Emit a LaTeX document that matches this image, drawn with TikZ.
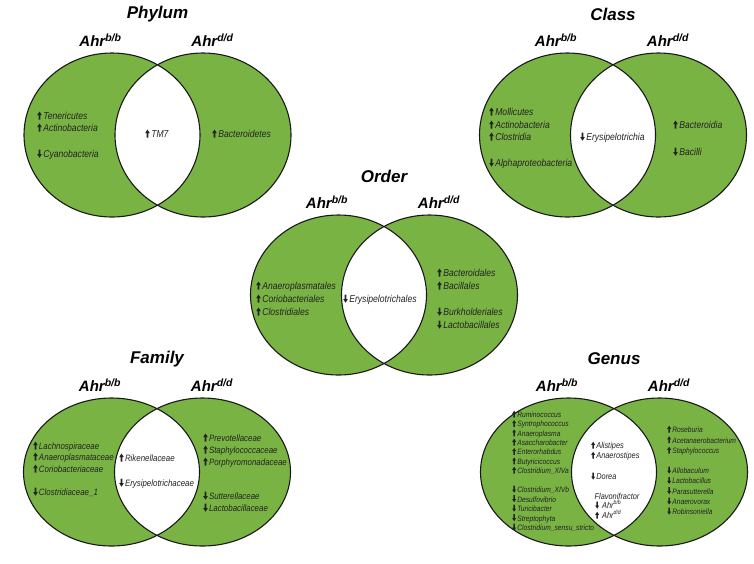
\documentclass[tikz,border=0pt]{standalone}
\usepackage{fontspec}
\setmainfont{Liberation Sans}
\newfontfamily\narrowsans[FakeStretch=0.86]{Liberation Sans}
\usepackage{xcolor}
\usepackage{tikz}

\definecolor{venngreen}{RGB}{121,179,68}
\definecolor{taxtext}{RGB}{35,35,35}

% small up/down arrows in front of each taxon
\newcommand{\uparr}[1][1]{\tikz[x=#1pt,y=#1pt,baseline=0pt]\fill (-0.9,-0.2) -- (-0.9,4.4) -- (-2.3,4.4) -- (0,8) -- (2.3,4.4) -- (0.9,4.4) -- (0.9,-0.2) -- cycle;}
\newcommand{\dnarr}[1][1]{\tikz[x=#1pt,y=#1pt,baseline=0pt]\fill (-0.9,8) -- (-0.9,3.4) -- (-2.3,3.4) -- (0,-0.2) -- (2.3,3.4) -- (0.9,3.4) -- (0.9,8) -- cycle;}

\begin{document}
\begin{tikzpicture}[x=1pt, y=-1pt,
    set/.style={fill=venngreen},
    rim/.style={draw=black!90, line width=1.1pt},
    heading/.style={font=\fontsize{17}{20}\selectfont\bfseries\itshape},
    geno/.style={font=\fontsize{15}{18}\selectfont\bfseries\itshape},
    taxon/.style={anchor=west, inner sep=0pt, text height=7pt, text depth=2pt, text=taxtext,
        font=\fontsize{10}{12}\selectfont\narrowsans\itshape},
    ftaxon/.style={taxon, font=\fontsize{9.2}{11}\selectfont\narrowsans\itshape},
    gtaxon/.style={taxon, font=\fontsize{7.8}{9}\selectfont\narrowsans\itshape},
    gmid/.style={taxon, font=\fontsize{8.6}{10}\selectfont\narrowsans\itshape}]
    \useasboundingbox (0,0) rectangle (754,563);

    % Venn pairs with headings
    \foreach \cx/\cy/\ry/\nm/\ttl in {157.5/135/82/phy/Phylum, 613/135/82/cls/Class,
        384/295/80/ord/Order, 157/472/74/fam/Family, 614/472/74/gen/Genus} {
        \fill[set] (\cx-45.5,\cy) ellipse [x radius=88pt, y radius=\ry*1pt];
        \fill[set] (\cx+45.5,\cy) ellipse [x radius=88pt, y radius=\ry*1pt];
        \begin{scope}
            \clip (\cx-45.5,\cy) ellipse [x radius=88pt, y radius=\ry*1pt];
            \fill[white] (\cx+45.5,\cy) ellipse [x radius=88pt, y radius=\ry*1pt];
        \end{scope}
        \draw[rim] (\cx-45.5,\cy) ellipse [x radius=88pt, y radius=\ry*1pt];
        \draw[rim] (\cx+45.5,\cy) ellipse [x radius=88pt, y radius=\ry*1pt];
        \node[heading] (\nm-ttl) at (\cx,\cy-\ry-39) {\ttl};
        \node[geno] (\nm-b) at (\cx-57,\cy-\ry-13) {Ahr\textsuperscript{b/b}};
        \node[geno] (\nm-d) at (\cx+55,\cy-\ry-13) {Ahr\textsuperscript{d/d}};
    }

    % Phylum
    \foreach \y/\ar/\tx [count=\i] in {117/\uparr/Tenericutes, 129/\uparr/Actinobacteria,
        155/\dnarr/Cyanobacteria}
        \node[taxon] (phy-l\i) at (37,\y) {\ar\hspace{1.5pt}\tx};
    \node[taxon] (phy-m1) at (145,135) {\uparr\hspace{1.5pt}TM7};
    \node[taxon] (phy-r1) at (212,135) {\uparr\hspace{1.5pt}Bacteroidetes};

    % Class
    \foreach \y/\ar/\tx [count=\i] in {113/\uparr/Mollicutes, 126/\uparr/Actinobacteria,
        138/\uparr/Clostridia, 164/\dnarr/Alphaproteobacteria}
        \node[taxon] (cls-l\i) at (489,\y) {\ar\hspace{1.5pt}\tx};
    \node[taxon] (cls-m1) at (580,138) {\dnarr\hspace{1.5pt}Erysipelotrichia};
    \foreach \y/\ar/\tx [count=\i] in {126/\uparr/Bacteroidia, 153/\dnarr/Bacilli}
        \node[taxon] (cls-r\i) at (673,\y) {\ar\hspace{1.5pt}\tx};

    % Order
    \foreach \y/\ar/\tx [count=\i] in {287/\uparr/Anaeroplasmatales, 300/\uparr/Coriobacteriales,
        313/\uparr/Clostridiales}
        \node[taxon] (ord-l\i) at (256,\y) {\ar\hspace{1.5pt}\tx};
    \node[taxon] (ord-m1) at (343,300) {\dnarr\hspace{1.5pt}Erysipelotrichales};
    \foreach \y/\ar/\tx [count=\i] in {274/\uparr/Bacteroidales, 287/\uparr/Bacillales,
        313/\dnarr/Burkholderiales, 326/\dnarr/Lactobacillales}
        \node[taxon] (ord-r\i) at (437,\y) {\ar\hspace{1.5pt}\tx};

    % Family
    \foreach \y/\ar/\tx [count=\i] in {447/\uparr/Lachnospiraceae, 458/\uparr/Anaeroplasmataceae,
        470/\uparr/Coriobacteriaceae, 493/\dnarr/Clostridiaceae\_1}
        \node[ftaxon] (fam-l\i) at (33,\y) {\ar\hspace{1.2pt}\tx};
    \foreach \y/\ar/\tx [count=\i] in {459/\uparr/Rikenellaceae, 484/\dnarr/Erysipelotrichaceae}
        \node[ftaxon] (fam-m\i) at (119,\y) {\ar\hspace{1.2pt}\tx};
    \foreach \y/\ar/\tx [count=\i] in {439/\uparr/Prevotellaceae, 451/\uparr/Staphylococcaceae,
        463/\uparr/Porphyromonadaceae, 497/\dnarr/Sutterellaceae, 509/\dnarr/Lactobacillaceae}
        \node[ftaxon] (fam-r\i) at (203,\y) {\ar\hspace{1.2pt}\tx};

    % Genus
    \foreach \y/\ar/\tx [count=\i] in {415/\uparr/Ruminococcus, 424.3/\uparr/Syntrophococcus,
        433.7/\uparr/Anaeroplasma, 443/\uparr/Asaccharobacter, 452.3/\uparr/Enterorhabdus,
        461.7/\uparr/Butyricicoccus, 471/\uparr/Clostridium\_XIVa,
        490/\dnarr/Clostridium\_XIVb, 499.5/\dnarr/Desulfovibrio, 509/\dnarr/Turicibacter,
        518.5/\dnarr/Streptophyta, 528/\dnarr/Clostridium\_sensu\_stricto}
        \node[gtaxon] (gen-l\i) at (512,\y) {\ar[0.85]\hspace{1.2pt}\tx};
    \foreach \y/\ar/\tx [count=\i] in {446/\uparr/Alistipes, 456/\uparr/Anaerostipes,
        477/\dnarr/Dorea}
        \node[gmid] (gen-m\i) at (591,\y) {\ar[0.85]\hspace{1.2pt}\tx};
    \node[gmid, anchor=center] (gen-flav) at (617,497) {Flavonifractor};
    \node[gmid] (gen-fb) at (595,506) {\dnarr[0.85]\hspace{3pt}Ahr\textsuperscript{b/b}};
    \node[gmid] (gen-fd) at (595,516) {\uparr[0.85]\hspace{3pt}Ahr\textsuperscript{d/d}};
    \foreach \y/\ar/\tx [count=\i] in {430/\uparr/Roseburia, 440.5/\uparr/Acetanaerobacterium,
        451/\uparr/Staphylococcus, 471/\dnarr/Allobaculum, 481.3/\dnarr/Lactobacillus,
        491.5/\dnarr/Parasutterella, 501.8/\dnarr/Anaerovorax, 512/\dnarr/Robinsoniella}
        \node[gtaxon] (gen-r\i) at (667,\y) {\ar[0.85]\hspace{1.2pt}\tx};
\end{tikzpicture}
\end{document}
